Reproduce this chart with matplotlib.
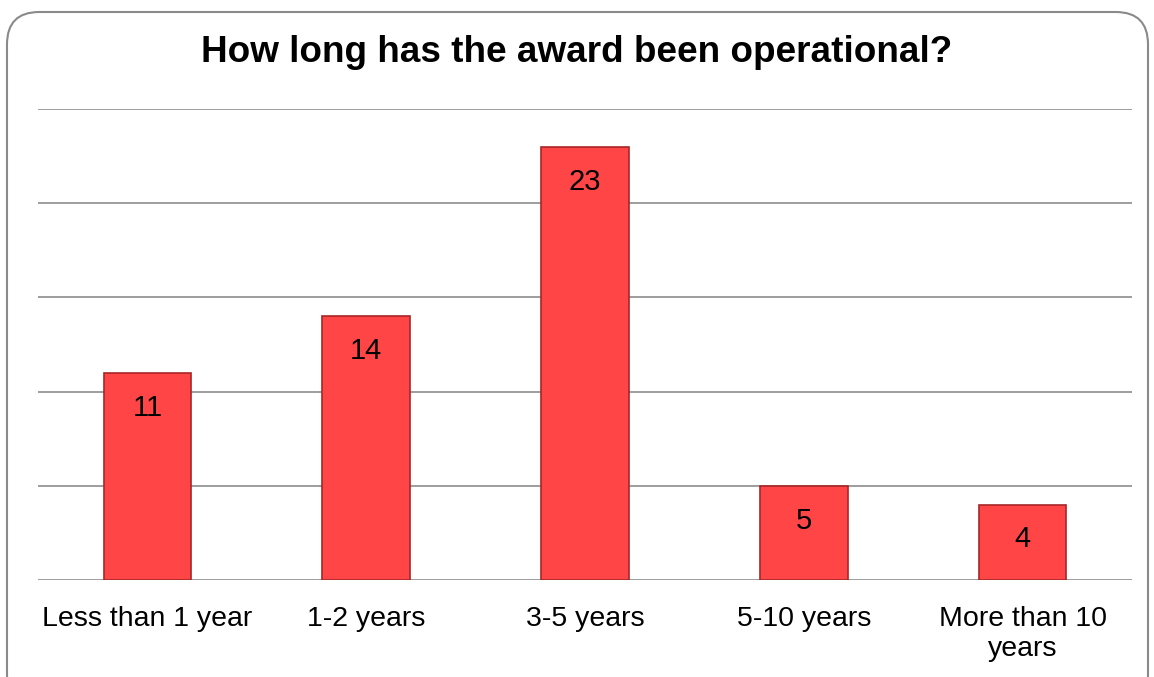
import matplotlib.pyplot as plt
from matplotlib.patches import FancyBboxPatch

plt.rcParams['font.family'] = ['Liberation Sans', 'DejaVu Sans']

categories = ['Less than 1 year', '1-2 years', '3-5 years', '5-10 years', 'More than 10\nyears']
values = [11, 14, 23, 5, 4]

W, H = 1154, 677
fig = plt.figure(figsize=(W / 100, H / 100), dpi=100)

# rounded frame around the chart (bottom edge runs off the image)
frame = FancyBboxPatch((7 / W, -30 / H), 1141 / W, (H - 12 + 30) / H,
                       boxstyle='round,pad=0,rounding_size=0.028',
                       transform=fig.transFigure, fill=False,
                       edgecolor='#8a8a8a', linewidth=1.5, mutation_aspect=W / H)
fig.patches.append(frame)

ax = fig.add_axes([38 / W, (H - 580) / H, (1132 - 38) / W, (580 - 109) / H])
x = range(len(categories))
bars = ax.bar(x, values, width=0.4, color='#ff4545', edgecolor='#a82626',
              linewidth=1.2, zorder=3)
for b, v in zip(bars, values):
    ax.annotate(str(v), (b.get_x() + b.get_width() / 2, v), xytext=(0, -15),
                textcoords='offset points', ha='center', va='top',
                fontsize=21, color='black', zorder=4)

ax.set_xlim(-0.5, len(categories) - 0.5)
ax.set_ylim(0, 25)
ax.set_yticks(range(0, 26, 5))
ax.yaxis.grid(True, color='#8c8c8c', linewidth=1.2, zorder=0)
ax.tick_params(axis='y', left=False, labelleft=False)
ax.tick_params(axis='x', length=0, pad=19, labelsize=20.5)
ax.set_xticks(list(x))
ax.set_xticklabels(categories, linespacing=1.2)
for s in ['left', 'right', 'top', 'bottom']:
    ax.spines[s].set_visible(False)

fig.text(0.5, (H - 53) / H, 'How long has the award been operational?',
         ha='center', va='center', fontsize=26.6, fontweight='bold')

fig.savefig('out.png', dpi=100)
